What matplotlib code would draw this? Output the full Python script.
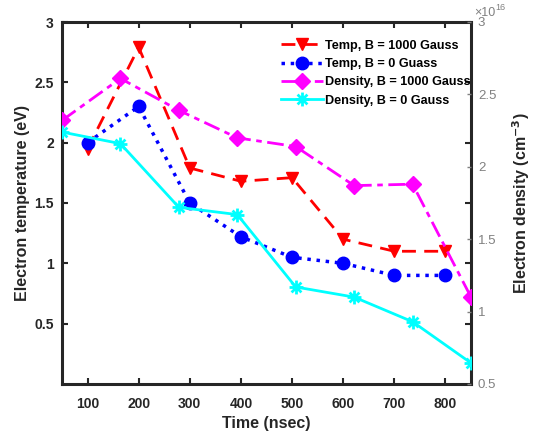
import numpy as np
import matplotlib
matplotlib.use("Agg")
from matplotlib import pyplot as plt
from matplotlib.path import Path
from matplotlib.ticker import FuncFormatter

plt.rcParams['font.family'] = ['Liberation Sans', 'DejaVu Sans']

time = [100, 200, 300, 400, 500, 600, 700, 800]
temp_1000 = [1.95, 2.79, 1.79, 1.68, 1.71, 1.20, 1.10, 1.10]
temp_0 = [2.00, 2.30, 1.50, 1.22, 1.05, 1.00, 0.90, 0.90]
dens_1000 = [2.32e16, 2.61e16, 2.39e16, 2.20e16, 2.14e16, 1.87e16, 1.88e16, 1.10e16]
dens_0 = [2.24e16, 2.16e16, 1.72e16, 1.67e16, 1.17e16, 1.10e16, 0.93e16, 0.645e16]

dark = '#262626'
grey = '#808080'

# matlab style asterisk marker (+ and x together)
a = 0.7071
star_verts = [(-1, 0), (1, 0), (0, -1), (0, 1), (-a, -a), (a, a), (-a, a), (a, -a)]
star_codes = [Path.MOVETO, Path.LINETO] * 4
asterisk = Path(star_verts, star_codes)

fig = plt.figure(figsize=(5.38, 4.38), dpi=100)
rect = [62 / 538, 54 / 438, 409 / 538, 362 / 438]
ax = fig.add_axes(rect)

l1, = ax.plot(time, temp_1000, '--v', color='red', lw=2, ms=9, dashes=(5, 3))
l2, = ax.plot(time, temp_0, ':o', color='blue', lw=2.5, ms=9)
ax.set_xlim(50, 850)
ax.set_ylim(0, 3)
ax.set_xticks(time)
ax.set_yticks([0.5, 1, 1.5, 2, 2.5, 3])
ax.set_yticklabels(['0.5', '1', '1.5', '2', '2.5', '3'])
ax.tick_params(direction='in', length=4, width=1.5, top=True, right=True,
               labelsize=10, colors=dark)
ax.tick_params(axis='x', pad=9)
ax.tick_params(axis='y', pad=6)
for lab in ax.get_xticklabels() + ax.get_yticklabels():
    lab.set_fontweight('bold')
for s in ax.spines.values():
    s.set_linewidth(2.2)
    s.set_color(dark)
ax.set_xlabel('Time (nsec)', fontsize=11.5, fontweight='bold', color=dark, labelpad=4)
ax.set_ylabel('Electron temperature (eV)', fontsize=11.5, fontweight='bold', color=dark,
              labelpad=3)

# density axes, own x range like plotyy
ax2 = fig.add_axes(rect)
ax2.patch.set_visible(False)
l3, = ax2.plot(time, dens_1000, '-.D', color='magenta', lw=2, ms=8.5, dashes=(6, 2, 2, 2))
l4, = ax2.plot(time, dens_0, '-', color='cyan', lw=2, marker=asterisk, ms=10,
               mew=2, mfc='none')
ax2.set_xlim(100, 800)
ax2.set_ylim(0.5e16, 3e16)
ax2.xaxis.set_visible(False)
for s in ax2.spines.values():
    s.set_visible(False)
ax2.yaxis.tick_right()
ax2.yaxis.set_label_position('right')
ax2.set_yticks(np.arange(0.5, 3.01, 0.5) * 1e16)
ax2.yaxis.set_major_formatter(FuncFormatter(lambda v, p: f'{v / 1e16:g}'))
ax2.tick_params(axis='y', direction='in', length=3, width=1, colors=grey,
                labelsize=9.5, pad=5)
# exponent label, like matlab
t1 = ax2.text(1.007, 1.017, '\u00d710', transform=ax2.transAxes, color=grey,
              fontsize=9, ha='left', va='baseline')
ax2.annotate('16', xy=(1.0, 0.55), xycoords=t1, color=grey, fontsize=6.5,
             ha='left', va='bottom')
ax2.set_ylabel('Electron density (cm$^{\\mathbf{-3}}$)', fontsize=11.5, fontweight='bold',
               color=dark, labelpad=10)

ax2.legend([l1, l2, l3, l4],
           ['Temp, B = 1000 Gauss', 'Temp, B = 0 Guass',
            'Density, B = 1000 Gauss', 'Density, B = 0 Gauss'],
           loc='upper left', bbox_to_anchor=(0.502, 0.935), bbox_transform=fig.transFigure,
           frameon=False, handlelength=3.3, handletextpad=0.15, labelspacing=0.5,
           prop={'weight': 'bold', 'size': 9.1})

fig.savefig('out.png', dpi=100)
